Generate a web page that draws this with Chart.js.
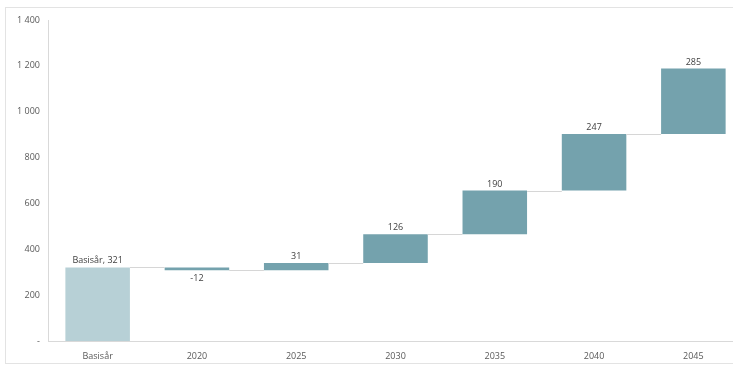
<!DOCTYPE html>
<html>
<head>
<meta charset="utf-8">
<script src="https://cdn.jsdelivr.net/npm/chart.js@4"></script>
<style>
  html, body { margin: 0; padding: 0; background: #fff; overflow: hidden; }
  #wrap { position: absolute; left: 0; top: 0; width: 733px; height: 366px; overflow: hidden; }
</style>
</head>
<body>
<div id="wrap"><canvas id="waterfall" width="743" height="366"></canvas></div>
<script>
// waterfall data
const categories = ['Basisår', '2020', '2025', '2030', '2035', '2040', '2045'];
const changes = [321, -12, 31, 126, 190, 247, 285];
const yTicks = [0, 200, 400, 600, 800, 1000, 1200, 1400];

const baseColor = '#b7d0d6';
const stepColor = '#74a2ad';

// build floating bars [start, end]
const ranges = [];
let running = 0;
changes.forEach((c, i) => {
  if (i === 0) {
    ranges.push([0, c]);
    running = c;
  } else {
    ranges.push([running, running + c]);
    running += c;
  }
});

function fmt(v) {
  if (v === 0) return '-';
  return String(v).replace(/\B(?=(\d{3})+(?!\d))/g, ' ');
}

// outer frame (left, top, bottom edges visible)
const framePlugin = {
  id: 'frame',
  beforeDraw(chart) {
    const ctx = chart.ctx;
    ctx.save();
    ctx.strokeStyle = '#e3e3e3';
    ctx.lineWidth = 1;
    ctx.strokeRect(5.5, 7.5, chart.width + 20, 356);
    ctx.restore();
  }
};

// connector lines + value labels
const waterfallPlugin = {
  id: 'waterfallExtras',
  afterDatasetsDraw(chart) {
    const ctx = chart.ctx;
    const meta = chart.getDatasetMeta(0);
    const y = chart.scales.y;
    ctx.save();
    ctx.strokeStyle = '#d6d6d6';
    ctx.lineWidth = 1;
    for (let i = 0; i < meta.data.length - 1; i++) {
      const a = meta.data[i];
      const b = meta.data[i + 1];
      const level = Math.round(y.getPixelForValue(ranges[i][1])) + 0.5;
      ctx.beginPath();
      ctx.moveTo(a.x + a.width / 2, level);
      ctx.lineTo(b.x - b.width / 2, level);
      ctx.stroke();
    }
    ctx.font = '9px "Open Sans", sans-serif';
    ctx.fillStyle = '#404040';
    ctx.textAlign = 'center';
    meta.data.forEach((bar, i) => {
      const c = changes[i];
      const text = i === 0 ? categories[0] + ', ' + c : String(c);
      if (c < 0) {
        ctx.textBaseline = 'top';
        ctx.fillText(text, bar.x, y.getPixelForValue(Math.min(...ranges[i])) + 4);
      } else {
        ctx.textBaseline = 'bottom';
        ctx.fillText(text, bar.x, y.getPixelForValue(Math.max(...ranges[i])) - 2);
      }
    });
    ctx.restore();
  }
};

new Chart(document.getElementById('waterfall').getContext('2d'), {
  type: 'bar',
  data: {
    labels: categories,
    datasets: [{
      data: ranges,
      backgroundColor: changes.map((c, i) => i === 0 ? baseColor : stepColor),
      borderWidth: 0,
      borderSkipped: false,
      categoryPercentage: 1,
      barPercentage: 0.65,
    }],
  },
  options: {
    responsive: false,
    animation: false,
    layout: { padding: { top: 20, left: 0, right: 0, bottom: 0 } },
    plugins: {
      legend: { display: false },
      tooltip: { enabled: false },
    },
    scales: {
      x: {
        grid: { display: false, drawTicks: false },
        border: { color: '#d9d9d9' },
        ticks: { color: '#595959', font: { family: 'Open Sans', size: 9 }, padding: 10 },
        afterFit(scale) { scale.height = 25; },
      },
      y: {
        min: 0,
        max: 1400,
        afterBuildTicks(scale) { scale.ticks = yTicks.map(v => ({ value: v })); },
        grid: { display: false, drawTicks: false },
        border: { color: '#d9d9d9' },
        ticks: {
          color: '#595959',
          font: { family: 'Open Sans', size: 9 },
          padding: 8,
          callback: v => fmt(v),
        },
        afterFit(scale) { scale.width = 48; },
      },
    },
  },
  plugins: [framePlugin, waterfallPlugin],
});
</script>
</body>
</html>
